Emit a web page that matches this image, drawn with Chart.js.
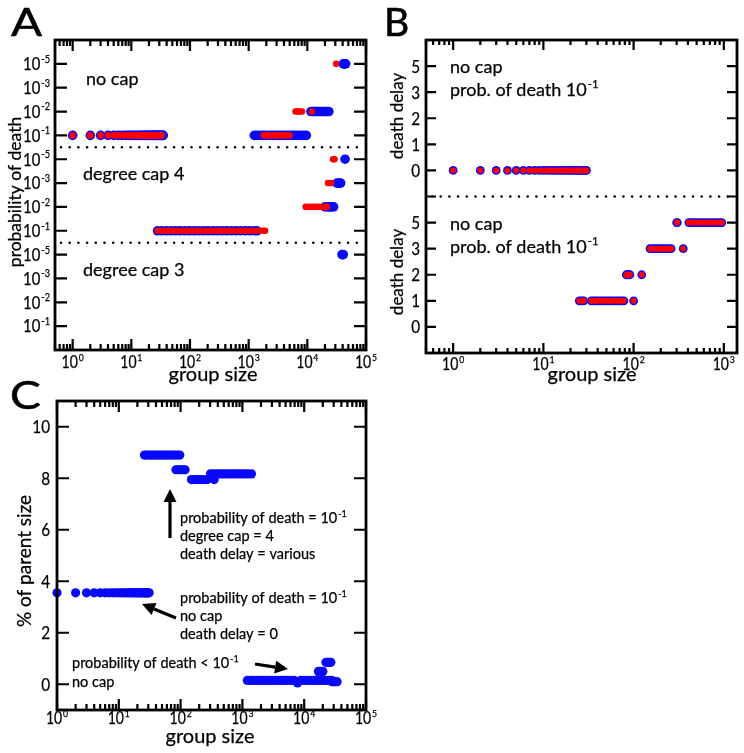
<!DOCTYPE html>
<html><head><meta charset="utf-8">
<script src="https://cdn.jsdelivr.net/npm/chart.js@4.4.1/dist/chart.umd.min.js"></script>
<style>
html,body{margin:0;padding:0;background:#fff;}
#wrap{position:relative;width:744px;height:753px;overflow:hidden;}
#wrap canvas{position:absolute;left:0;top:0;}
</style></head><body>
<div id="wrap">
<canvas id="cA" width="744" height="753"></canvas>
<canvas id="cB" width="744" height="753"></canvas>
<canvas id="cC" width="744" height="753"></canvas>
</div>
<script>
// ---------------- DATA ----------------
// Panel A: probability-of-death levels inside each band (bottom -> top), shown as 10^exp
const aProbExponents = ['-1', '-2', '-3', '-5'];
const aBands = ['degree cap 3', 'degree cap 4', 'no cap']; // bottom -> top
// group sizes per band / probability (blue = one run set, red = other)
const aNoCapP1Blue = [1,2,3,4,5,6,7,8,9,10,11,12,13,14,15,16,17,18,19,20,21,22,23,24,25,26,27,28,29,30,31,32,33,34,35,1250,1400,1600,1800,2000,2300,2600,2900,3300,3700,4200,4700,5300,6000,6700,7500,8500,9600];
const aNoCapP1Red  = [1,2,3,4,5,6,7,8,9,10,11,12,13,14,15,16,17,18,19,20,21,22,23,24,25,26,27,28,29,30,31,32,33,1800,2000,2200,2500,2800,3100,3500,3900,4400,5000];
const aNoCapP2Blue = [11500,12300,13200,14200,15200,16300,17500,18800,20200,21700,23300];
const aNoCapP2Red  = [6300,6700,7100,7600,8100,12000];
const aNoCapP5Blue = [41000,43000,45000];
const aNoCapP5Red  = [31000];
const aCap4P1Blue = [28,33,40,48,57,68,82,98,118,141,170,203,244,293,351,421,505,606,727,873,1047,1257,1390];
const aCap4P1Red  = [28,33,40,48,57,68,82,98,118,141,170,203,244,293,351,421,505,606,727,873,1047,1257,1500,1750,1900];
const aCap4P2Blue = [20000,22000,24000,26000,28000];
const aCap4P2Red  = [9400,10500,11700,13000,14500,16000,18000,20000,21500];
const aCap4P3Blue = [32000,34500,37000];
const aCap4P3Red  = [22500,25500];
const aCap4P5Blue = [44000];
const aCap4P5Red  = [27500,29000];
const aCap3P5Blue = [39000,41000];

// Panel B: death delay labels (equally spaced rows)
const bDelayLabels = ['0', '1', '2', '3', '5'];
const bUpperDelay0 = [1,2,3,4,5,6,7,8,9,10,11,12,13,14,15,16,17,18,19,20,21,22,23,24,25,26,27,28,29,30];
const bLowerDelay1 = [25,26.5,28,34,36,38,40,43,46,49,52,55,58,62,66,70,74,78,100];
const bLowerDelay2 = [83,86,89,91,123];
const bLowerDelay3 = [152,162,173,185,198,212,227,243,260,355];
const bLowerDelay5 = [300,305,410,440,470,500,540,580,620,670,720,770,830,890,950];

// Panel C: % of parent size vs group size
const cNoCapSizes = [1,2,3,4,5,6,7,8,9,10,11,12,13,14,15,16,17,18,19,20,21,22,23,24,25,26,27,28,29,30,31];
const cNoCapPct = 3.55;
const cCap4Sizes = [26,28,31,34,37,40,44,48,52,57,62,68,74,81,89,97, 84,90,97,104,112,118, 150,165,180,200,220,245,270,350, 305,340,380,420,470,520,580,640,710,790,880,980,1100,1230,1400];
const cCap4Pct   = [8.9,8.9,8.9,8.9,8.9,8.9,8.9,8.9,8.9,8.9,8.9,8.9,8.9,8.9,8.9,8.9, 8.33,8.33,8.33,8.33,8.33,8.33, 7.95,7.95,7.95,7.95,7.95,7.95,7.95,7.95, 8.17,8.17,8.17,8.17,8.17,8.17,8.17,8.17,8.17,8.17,8.17,8.17,8.17,8.17,8.17];
const cLowSizes = [1200,1350,1500,1700,1900,2150,2400,2700,3000,3400,3800,4300,4800,5400,6100,6900,7800,8800,9900,11200,12600,14200,16000,18000,20000,22500,25000,28000, 17000,18500,20000,18000,22500,24000,25500,27000,28000,30000,32000,34000];
const cLowPct   = [0.15,0.15,0.15,0.15,0.15,0.15,0.15,0.15,0.15,0.15,0.15,0.15,0.15,0.15,0.15,0.15,0.05,0.15,0.15,0.15,0.15,0.15,0.15,0.15,0.15,0.15,0.15,0.15, 0.5,0.5,0.5,0.3,0.85,0.85,0.85,0.85,0.1,0.1,0.1,0.1];

// ---------------- HELPERS ----------------
const BLUE = 'rgb(8,8,250)', RED = 'rgb(252,0,0)';
const FONT = 'Lato, "Open Sans", "DejaVu Sans", sans-serif';
function setFont(ctx, size) { ctx.font = size + 'px ' + FONT; }
// draws base text with optional superscript; sq = horizontal scale, bw = extra stroke weight
function powText(ctx, base, exp, x, y, size, align, sq, bw) {
  sq = sq || 1; bw = bw === undefined ? 0.25 : bw;
  setFont(ctx, size);
  const w1 = ctx.measureText(base).width;
  const es = size * 0.62;
  setFont(ctx, es);
  const w2 = exp ? ctx.measureText(exp).width + 1 : 0;
  const tot = (w1 + w2) * sq;
  const sx = align === 'right' ? x - tot : align === 'center' ? x - tot / 2 : x;
  ctx.save();
  ctx.translate(sx, y); ctx.scale(sq, 1);
  ctx.textAlign = 'left'; ctx.lineWidth = bw; ctx.lineJoin = 'round';
  setFont(ctx, size);
  ctx.fillText(base, 0, 0);
  if (bw > 0) ctx.strokeText(base, 0, 0);
  if (exp) {
    setFont(ctx, es);
    ctx.fillText(exp, w1 + 1, -size * 0.42);
    if (bw > 0) ctx.strokeText(exp, w1 + 1, -size * 0.42);
  }
  ctx.restore();
}
function arrow(ctx, x1, y1, x2, y2) {
  const ang = Math.atan2(y2 - y1, x2 - x1), hl = 13, hw = 6.5;
  const bx = x2 - hl * Math.cos(ang), by = y2 - hl * Math.sin(ang);
  ctx.lineWidth = 3.2; ctx.lineCap = 'butt';
  ctx.beginPath(); ctx.moveTo(x1, y1); ctx.lineTo(bx, by); ctx.stroke();
  ctx.beginPath(); ctx.moveTo(x2, y2);
  ctx.lineTo(bx + hw * Math.sin(ang), by - hw * Math.cos(ang));
  ctx.lineTo(bx - hw * Math.sin(ang), by + hw * Math.cos(ang));
  ctx.closePath(); ctx.fill();
}
const deco = {
  id: 'deco',
  afterDatasetsDraw(chart, args, o) {
    const { ctx, chartArea: ca, scales: { x, y } } = chart;
    ctx.save();
    ctx.fillStyle = '#000'; ctx.strokeStyle = '#000';
    (o.dotted || []).forEach(v => {
      const py = y.getPixelForValue(v);
      ctx.save(); ctx.lineWidth = 2.6; ctx.lineCap = 'round'; ctx.setLineDash([0, 8.7]);
      ctx.beginPath(); ctx.moveTo(ca.left + 6, py); ctx.lineTo(ca.right - 2, py); ctx.stroke(); ctx.restore();
    });
    ctx.lineWidth = 2.2; ctx.lineCap = 'butt';
    ctx.beginPath();
    const lo = Math.floor(Math.log10(x.min)), hi = Math.ceil(Math.log10(x.max));
    for (let d = lo; d <= hi; d++) for (let k = 1; k <= 9; k++) {
      const v = k * Math.pow(10, d);
      if (v < x.min * 0.999 || v > x.max * 1.001) continue;
      const px = x.getPixelForValue(v), L = k === 1 ? o.xMajor : o.xMinor;
      ctx.moveTo(px, ca.bottom); ctx.lineTo(px, ca.bottom - L);
      ctx.moveTo(px, ca.top); ctx.lineTo(px, ca.top + L);
    }
    o.yTicks.forEach(t => {
      const py = y.getPixelForValue(t.v);
      ctx.moveTo(ca.left, py); ctx.lineTo(ca.left + o.yLen, py);
      ctx.moveTo(ca.right, py); ctx.lineTo(ca.right - o.yLen, py);
    });
    ctx.stroke();
    ctx.lineWidth = 2.8;
    ctx.strokeRect(ca.left, ca.top, ca.right - ca.left, ca.bottom - ca.top);
    // x tick labels
    for (let d = Math.ceil(Math.log10(x.min) - 1e-9); d <= Math.floor(Math.log10(x.max) + 1e-9); d++) {
      powText(ctx, '10', String(d), x.getPixelForValue(Math.pow(10, d)), o.xLabelY, o.xLabelSize, 'center', 0.85);
    }
    // y tick labels
    o.yTicks.forEach(t => {
      if (t.base === undefined) return;
      const py = y.getPixelForValue(t.v);
      powText(ctx, t.base, t.exp, ca.left - o.yLabelGap, py + o.yLabelSize * 0.36, o.yLabelSize, 'right', 0.85);
    });
    // texts
    (o.texts || []).forEach(t => {
      if (t.rot) {
        ctx.save(); ctx.translate(t.x, t.y); ctx.rotate(-Math.PI / 2);
        ctx.textBaseline = 'middle';
        powText(ctx, t.t, t.sup, 0, 0, t.size, 'center', t.sq, t.bw);
        ctx.restore();
      } else {
        powText(ctx, t.t, t.sup, t.x, t.y, t.size, t.align || 'left', t.sq, t.bw);
      }
    });
    (o.arrows || []).forEach(a => arrow(ctx, a[0], a[1], a[2], a[3]));
    ctx.restore();
  }
};
function baseOptions(pad, xr, yr, decoOpts) {
  return {
    responsive: false, animation: false, devicePixelRatio: 1,
    layout: { padding: pad },
    scales: {
      x: { type: 'logarithmic', min: xr[0], max: xr[1], display: false },
      y: { type: 'linear', min: yr[0], max: yr[1], display: false }
    },
    plugins: { legend: { display: false }, tooltip: { enabled: false }, deco: decoOpts },
    events: []
  };
}
function rowPts(sizes, pos) { return sizes.map(s => ({ x: s, y: pos })); }
function ds(data, color, r, order) {
  return { data, backgroundColor: color, borderWidth: 0, pointRadius: r, pointHoverRadius: r, order, clip: false };
}

// ---------------- PANEL A ----------------
(function () {
  const pos = (band, level) => band * 4 + level; // band 0 = degree cap 3 ... 2 = no cap
  const blue = [].concat(
    rowPts(aNoCapP1Blue, pos(2, 0)), rowPts(aNoCapP2Blue, pos(2, 1)), rowPts(aNoCapP5Blue, pos(2, 3)),
    rowPts(aCap4P1Blue, pos(1, 0)), rowPts(aCap4P2Blue, pos(1, 1)), rowPts(aCap4P3Blue, pos(1, 2)), rowPts(aCap4P5Blue, pos(1, 3)),
    rowPts(aCap3P5Blue, pos(0, 3)));
  const red = [].concat(
    rowPts(aNoCapP1Red, pos(2, 0)), rowPts(aNoCapP2Red, pos(2, 1)), rowPts(aNoCapP5Red, pos(2, 3)),
    rowPts(aCap4P1Red, pos(1, 0)), rowPts(aCap4P2Red, pos(1, 1)), rowPts(aCap4P3Red, pos(1, 2)), rowPts(aCap4P5Red, pos(1, 3)));
  const yTicks = [];
  aBands.forEach((b, bi) => aProbExponents.forEach((e, li) => yTicks.push({ v: pos(bi, li), base: '10', exp: e })));
  const texts = [
    { t: 'A', x: 11, y: 36, size: 39, sq: 1.18, bw: 0.6 },
    { t: aBands[2], x: 86, y: 85, size: 18 },
    { t: aBands[1], x: 83, y: 180, size: 18 },
    { t: aBands[0], x: 83, y: 276, size: 18 },
    { t: 'probability of death', x: 15, y: 192, size: 17.5, rot: true },
    { t: 'group size', x: 213, y: 381, size: 20, align: 'center' }
  ];
  new Chart(document.getElementById('cA'), {
    type: 'scatter',
    data: { datasets: [ds(red, RED, 3.3, 0), ds(blue, BLUE, 4.8, 1)] },
    options: baseOptions({ left: 55, top: 40, right: 378, bottom: 403 }, [0.5, 1e5], [-1, 12],
      { dotted: [3.5, 7.5], xMajor: 11, xMinor: 6, yLen: 12, yTicks, xLabelY: 368, xLabelSize: 16.5, yLabelGap: 5, yLabelSize: 17.5, texts }),
    plugins: [deco]
  });
})();

// ---------------- PANEL B ----------------
(function () {
  const lowerPos = d => bDelayLabels.indexOf(String(d));
  const upperPos = d => 6 + bDelayLabels.indexOf(String(d));
  const pts = [].concat(
    rowPts(bUpperDelay0, upperPos(0)),
    rowPts(bLowerDelay1, lowerPos(1)), rowPts(bLowerDelay2, lowerPos(2)),
    rowPts(bLowerDelay3, lowerPos(3)), rowPts(bLowerDelay5, lowerPos(5)));
  const yTicks = [];
  bDelayLabels.forEach(l => { yTicks.push({ v: lowerPos(l), base: l }); yTicks.push({ v: upperPos(l), base: l }); });
  yTicks.push({ v: 5 });
  const texts = [
    { t: 'B', x: 384, y: 36, size: 39, sq: 1.0, bw: 0.6 },
    { t: 'no cap', x: 450, y: 73, size: 18 },
    { t: 'prob. of death 10', sup: '-1', x: 450, y: 96, size: 18 },
    { t: 'no cap', x: 450, y: 230, size: 18 },
    { t: 'prob. of death 10', sup: '-1', x: 450, y: 253, size: 18 },
    { t: 'death delay', x: 398, y: 116, size: 17, rot: true },
    { t: 'death delay', x: 398, y: 272, size: 17, rot: true },
    { t: 'group size', x: 592, y: 381, size: 20, align: 'center' }
  ];
  new Chart(document.getElementById('cB'), {
    type: 'scatter',
    data: { datasets: [ds(pts, RED, 3.0, 0), ds(pts, BLUE, 4.4, 1)] },
    options: baseOptions({ left: 426, top: 40, right: 7, bottom: 400 }, [0.5, 1400], [-1, 11],
      { dotted: [5], xMajor: 10, xMinor: 5, yLen: 10, yTicks, xLabelY: 370, xLabelSize: 16.5, yLabelGap: 6, yLabelSize: 18, texts }),
    plugins: [deco]
  });
})();

// ---------------- PANEL C ----------------
(function () {
  const pts = [].concat(
    rowPts(cNoCapSizes, cNoCapPct),
    cCap4Sizes.map((s, i) => ({ x: s, y: cCap4Pct[i] })),
    cLowSizes.map((s, i) => ({ x: s, y: cLowPct[i] })));
  const yTicks = [0, 2, 4, 6, 8, 10].map(v => ({ v, base: String(v) }));
  const texts = [
    { t: 'C', x: 10, y: 409, size: 39, sq: 1.18, bw: 0.6 },
    { t: 'probability of death = 10', sup: '-1', x: 180, y: 523, size: 14.5 },
    { t: 'degree cap = 4', x: 180, y: 541, size: 14.5 },
    { t: 'death delay = various', x: 180, y: 559, size: 14.5 },
    { t: 'probability of death = 10', sup: '-1', x: 180, y: 603, size: 14.5 },
    { t: 'no cap', x: 180, y: 621, size: 14.5 },
    { t: 'death delay = 0', x: 180, y: 639, size: 14.5 },
    { t: 'probability of death < 10', sup: '-1', x: 72, y: 668, size: 14.5 },
    { t: 'no cap', x: 72, y: 687, size: 14.5 },
    { t: '% of parent size', x: 25, y: 561, size: 19, rot: true },
    { t: 'group size', x: 210, y: 743, size: 20, align: 'center' }
  ];
  const arrows = [[170, 538, 170, 489], [176, 618, 142, 604], [255, 664, 288, 669]];
  new Chart(document.getElementById('cC'), {
    type: 'scatter',
    data: { datasets: [ds(pts, BLUE, 4.6, 0)] },
    options: baseOptions({ left: 57, top: 401, right: 378, bottom: 43 }, [1, 1e5], [-1, 11],
      { xMajor: 11, xMinor: 6, yLen: 12, yTicks, xLabelY: 724, xLabelSize: 16.5, yLabelGap: 7, yLabelSize: 18, texts, arrows }),
    plugins: [deco]
  });
})();
</script>
</body></html>
